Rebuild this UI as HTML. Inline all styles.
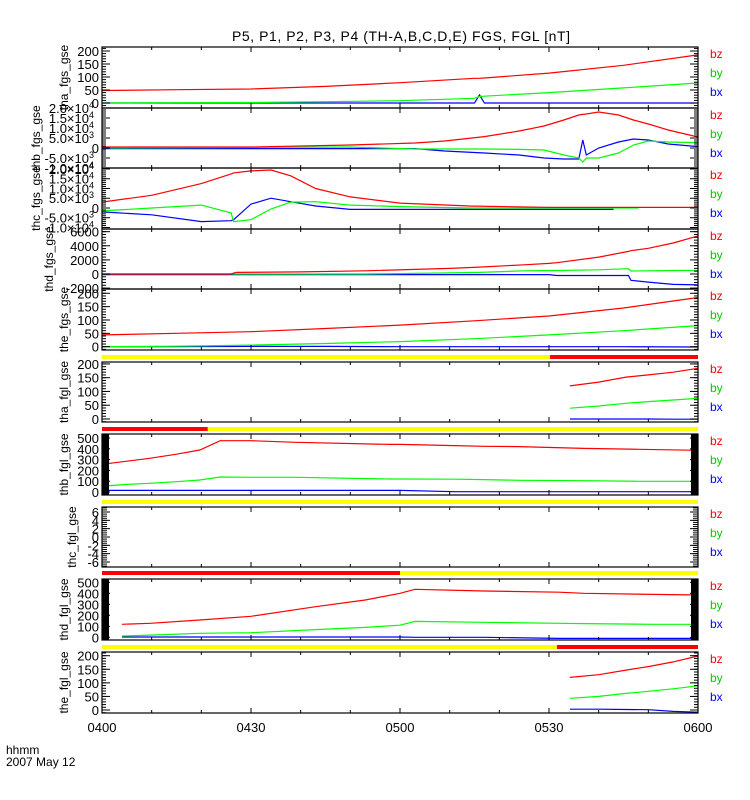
<!DOCTYPE html>
<html><head><meta charset="utf-8"><title>THEMIS FGS/FGL</title>
<style>
html,body{margin:0;padding:0;background:#fff;}
svg{display:block;font-family:"Liberation Sans",sans-serif;}
</style></head>
<body>
<svg id="chart" width="750" height="800" viewBox="0 0 750 800" xmlns="http://www.w3.org/2000/svg">
<rect x="0" y="0" width="750" height="800" fill="#fff"/>
<text x="401" y="41" font-size="14" text-anchor="middle" textLength="338">P5, P1, P2, P3, P4 (TH-A,B,C,D,E) FGS, FGL [nT]</text>
<text x="6" y="754" font-size="12">hhmm</text>
<text x="6" y="766" font-size="12">2007 May 12</text>
</svg>
<script>
// ---------- DATA (minutes after 04:00) ----------
const xTickLabels = ["0400","0430","0500","0530","0600"];
const xTickMinutes = [0,30,60,90,120];

const tP1 = [0,15,30,45,60,75,76,77,90,105,120];
const bzP1 = [48,51,54,64,78,95,95,96,115,145,185];
const byP1 = [0,1,2,5,9,18,25,26,40,58,77];
const bxP1 = [0,0,0,0,0,0,31,0,0,0,0];

const tP2 = [0,30,50,63,69,77,84,89,93,96,96.8,97.5,100,104,107,110,114,120];
const bzP2 = [500,500,1500,2500,3500,5700,8500,11000,14000,16500,16800,17000,18000,16500,14000,12000,9000,5500];
const byP2 = [0,300,500,-500,-500,-500,-700,-1000,-3500,-5000,-7000,-5000,-5000,-2500,1500,3500,3000,2700];
const bxP2 = [-300,-300,-300,-300,-1500,-2500,-3500,-5000,-5500,-5500,4000,-3500,0,3000,4500,4000,2000,700];

const tP3 = [0,10,20,26,26.5,30,34,38,43,50,60,74,90,103,108,120];
const bzP3 = [3000,6500,12500,17500,18000,19000,19500,16500,10000,5700,2500,1000,300,300,300,300];
const byP3 = [-1500,0,1500,-2500,-7000,-6000,-500,3000,3200,1500,700,0,0,0,0,null];
const bxP3 = [-2000,-3500,-7000,-6500,-6000,2000,5000,3200,1000,-700,-700,-700,-700,-700,null,null];

const tP4 = [0,26,27,40,53,70,76,85,90,91.6,100,106,106.5,110,115,120];
const bzP4 = [0,0,220,300,450,800,980,1300,1500,1600,2400,3200,3300,3650,4400,5400];
const byP4 = [0,0,0,0,0,150,220,450,500,500,600,750,420,450,500,530];
const bxP4 = [-80,-80,-80,-80,-80,-80,-80,-80,-80,-220,-220,-220,-890,-1150,-1470,-1550];

const tP5 = [0,15,30,45,60,75,90,105,120];
const bzP5 = [44,50,56,68,81,97,115,145,184];
const byP5 = [0,2,6,12,19,30,44,60,79];
const bxP5 = [0,0,1,1,0,0,0,0,-1];

const tP6 = [94.2,100,105.5,110,115,120];
const bzP6 = [120,134,152,160,170,184];
const byP6 = [39,47,57,63,69,75];
const bxP6 = [0,0,0,0,-1,-1];

const tP7 = [0,1,5,9.6,15,19.7,23.8,30,39,58,60,71,77,84,97,108,120];
const bzP7 = [256,262,285,312,350,389,475,475,460,441,441,430,423,420,404,395,386];
const byP7 = [34,56,70,80,95,111,139,136,136,120,120,118,115,108,104,99,99];
const bxP7 = [15,15,15,15,15,15,15,15,15,15,15,3,3,3,3,3,3];

const tP8 = [];
const bzP8 = [];
const byP8 = [];
const bxP8 = [];

const tP9 = [4,9.7,19.7,30,43,53,60,63,77,92,97,111,120];
const bzP9 = [118,127,157,191,278,339,400,436,421,410,400,390,385];
const byP9 = [12,20,36,42,70,90,110,145,136,127,125,118,118];
const bxP9 = [3,3,3,3,3,3,3,0,0,-10,-10,-10,-10];

const tP10 = [94.2,100,105.5,110,115,120];
const bzP10 = [120,130,147,160,177,199];
const byP10 = [43,50,61,69,78,89];
const bxP10 = [3,3,2,1,-5,-8];

const ticksSmall = [0,50,100,150,200];
const ticksSmallLabels = ["0","50","100","150","200"];
const ticksBig = [-10000,-5000,0,5000,10000,15000,20000];
const ticksBigLabels = ["-1.0×10^4","-5.0×10^3","0","5.0×10^3","1.0×10^4","1.5×10^4","2.0×10^4"];
const ticksP4 = [-2000,0,2000,4000,6000];
const ticksP4Labels = ["-2000","0","2000","4000","6000"];
const ticksFgl = [0,100,200,300,400,500];
const ticksFglLabels = ["0","100","200","300","400","500"];
const ticksP8 = [-6,-4,-2,0,2,4,6];
const ticksP8Labels = ["-6","-4","-2","0","2","4","6"];

// status bars: split minute
const barSplits = [90.2, 21.3, 200, 60, 91.6];

// ---------- LAYOUT ----------
const X0 = 102, X1 = 698;
function xs(m){ return X0 + (m/120)*(X1-X0); }
const panels = [
 {name:"tha-fgs-gse", title:"tha_fgs_gse", top:47, bot:108, ymin:-19.2, ymax:215.4, t:tP1, bz:bzP1, by:byP1, bx:bxP1, ticks:ticksSmall, labels:ticksSmallLabels, minor:10, mlen:4, titleX:68},
 {name:"thb-fgs-gse", title:"thb_fgs_gse", top:108, bot:168, ymin:-10000, ymax:20000, t:tP2, bz:bzP2, by:byP2, bx:bxP2, ticks:ticksBig, labels:ticksBigLabels, minor:1000, mlen:4, titleX:40},
 {name:"thc-fgs-gse", title:"thc_fgs_gse", top:168, bot:229, ymin:-10770, ymax:20500, t:tP3, bz:bzP3, by:byP3, bx:bxP3, ticks:ticksBig, labels:ticksBigLabels, minor:1000, mlen:4, titleX:40},
 {name:"thd-fgs-gse", title:"thd_fgs_gse", top:229, bot:289, ymin:-2128, ymax:6380, t:tP4, bz:bzP4, by:byP4, bx:bxP4, ticks:ticksP4, labels:ticksP4Labels, minor:400, mlen:4, titleX:53},
 {name:"the-fgs-gse", title:"the_fgs_gse", top:289, bot:350, ymin:-12.4, ymax:216, t:tP5, bz:bzP5, by:byP5, bx:bxP5, ticks:ticksSmall, labels:ticksSmallLabels, minor:10, mlen:4, titleX:68},
 {name:"tha-fgl-gse", title:"tha_fgl_gse", top:362, bot:422, ymin:-11, ymax:207, t:tP6, bz:bzP6, by:byP6, bx:bxP6, ticks:ticksSmall, labels:ticksSmallLabels, minor:10, mlen:4, titleX:68},
 {name:"thb-fgl-gse", title:"thb_fgl_gse", top:434, bot:495, ymin:-28, ymax:537, t:tP7, bz:bzP7, by:byP7, bx:bxP7, ticks:ticksFgl, labels:ticksFglLabels, minor:5, mlen:7, titleX:68},
 {name:"thc-fgl-gse", title:"thc_fgl_gse", top:507, bot:567, ymin:-7.2, ymax:7.2, t:tP8, bz:bzP8, by:byP8, bx:bxP8, ticks:ticksP8, labels:ticksP8Labels, minor:0.5, mlen:5, titleX:76},
 {name:"thd-fgl-gse", title:"thd_fgl_gse", top:579, bot:640, ymin:-24.5, ymax:530, t:tP9, bz:bzP9, by:byP9, bx:bxP9, ticks:ticksFgl, labels:ticksFglLabels, minor:5, mlen:7, titleX:68},
 {name:"the-fgl-gse", title:"the_fgl_gse", top:652, bot:713, ymin:-11, ymax:213.6, t:tP10, bz:bzP10, by:byP10, bx:bxP10, ticks:ticksSmall, labels:ticksSmallLabels, minor:10, mlen:4, titleX:68}
];
const bars = [
 {y:355, left:"#ffff00", right:"#ff0000"},
 {y:427, left:"#ff0000", right:"#ffff00"},
 {y:500, left:"#ffff00", right:"#ffff00"},
 {y:571, left:"#ff0000", right:"#ffff00"},
 {y:645, left:"#ffff00", right:"#ff0000"}
];

const NS = "http://www.w3.org/2000/svg";
const svg = document.getElementById("chart");
function mk(tag, attrs, parent){
  const e = document.createElementNS(NS, tag);
  for (const k in attrs) e.setAttribute(k, attrs[k]);
  (parent||svg).appendChild(e);
  return e;
}

panels.forEach(function(p){
  const g = mk("g", {});
  
  
  const ys = function(v){ return p.bot - (v - p.ymin)/(p.ymax - p.ymin)*(p.bot - p.top); };
  const series = [["bx","#0000ff",p.bx],["by","#00ff00",p.by],["bz","#ff0000",p.bz]];
  series.forEach(function(s){
    let segs = [], cur = [];
    for (let i=0;i<p.t.length;i++){
      const v = s[2][i];
      if (v === null || v === undefined){ if(cur.length) segs.push(cur); cur=[]; continue; }
      cur.push(xs(p.t[i]).toFixed(1)+","+ys(v).toFixed(1));
    }
    if (cur.length) segs.push(cur);
    segs.forEach(function(sg){
      const pl = mk("polyline", {points: sg.join(" "), fill:"none", stroke:s[1], "stroke-width":"1.2"}, g);
      
      
    });
  });
  const fr = mk("rect", {x:X0, y:p.top, width:X1-X0, height:p.bot-p.top, fill:"none", stroke:"#000", "stroke-width":"1.2"}, g);
  
  
  for (let m=0; m<=120; m+=10){
    const len = (m%30===0) ? 5 : 3;
    const x = xs(m);
    mk("line", {x1:x, y1:p.bot, x2:x, y2:p.bot-len, stroke:"#000"}, g);
    mk("line", {x1:x, y1:p.top, x2:x, y2:p.top+len, stroke:"#000"}, g);
  }
  const start = Math.ceil(p.ymin/p.minor)*p.minor;
  for (let v=start; v<=p.ymax; v+=p.minor){
    const y = ys(v);
    mk("line", {x1:X0, y1:y, x2:X0+p.mlen, y2:y, stroke:"#000", "stroke-width":"1"}, g);
    mk("line", {x1:X1, y1:y, x2:X1-p.mlen, y2:y, stroke:"#000", "stroke-width":"1"}, g);
  }
  p.ticks.forEach(function(v, i){
    const y = ys(v);
    mk("line", {x1:X0, y1:y, x2:X0+8, y2:y, stroke:"#000"}, g);
    mk("line", {x1:X1, y1:y, x2:X1-8, y2:y, stroke:"#000"}, g);
    const lab = p.labels[i];
    const tx = mk("text", {x:99, y:y+5, "font-size":"13", "text-anchor":"end"}, g);
    
    
    if (lab.indexOf("^")>=0){
      const parts = lab.split("^");
      tx.setAttribute("x", 94);
      tx.appendChild(document.createTextNode(parts[0]));
      const sup = mk("tspan", {dy:"-5", "font-size":"9"}, tx);
      sup.textContent = parts[1];
    } else {
      tx.textContent = lab;
    }
  });
  const cy = (p.top+p.bot)/2;
  const tt = mk("text", {x:p.titleX, y:cy, "font-size":"12", "text-anchor":"middle", transform:"rotate(-90 "+p.titleX+" "+cy+")"}, g);
  
  
  tt.textContent = p.title;
  [["bz","#ff0000",11],["by","#00cc00",30],["bx","#0000ff",49]].forEach(function(l){
    const le = mk("text", {x:710, y:p.top+l[2], "font-size":"12", fill:l[1]}, g);
    
    
    le.textContent = l[0];
  });
});

bars.forEach(function(b, i){
  const sx = xs(Math.min(barSplits[i],120));
  const r1 = mk("rect", {x:X0, y:b.y, width:sx-X0, height:4, fill:b.left});
  
  
  if (sx < X1){
    const r2 = mk("rect", {x:sx, y:b.y, width:X1-sx, height:4, fill:b.right});
    
    
  }
});

xTickMinutes.forEach(function(m, i){
  const t = mk("text", {x:xs(m), y:732, "font-size":"13", "text-anchor":"middle"});
  
  
  t.textContent = xTickLabels[i];
});
</script>
</body></html>
